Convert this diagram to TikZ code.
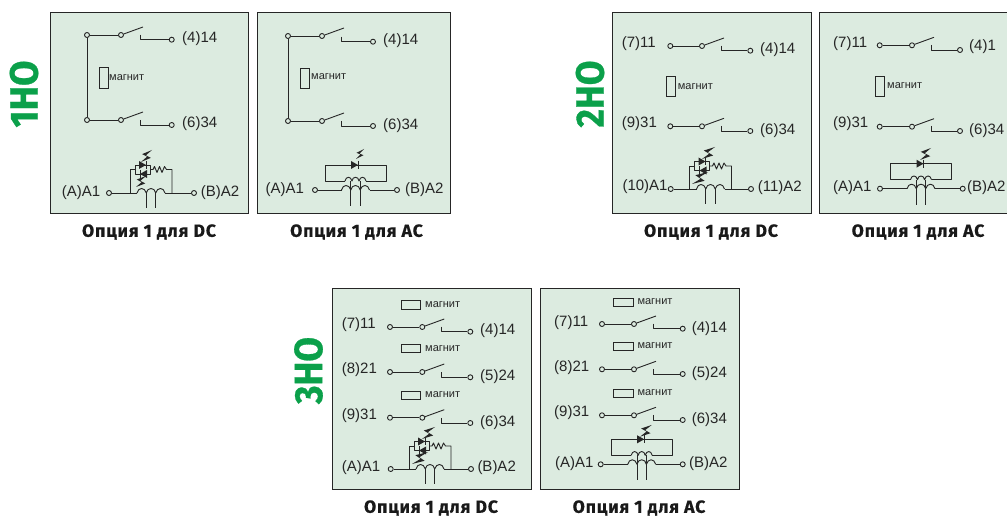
\documentclass[tikz,border=0pt]{standalone}
\usepackage{fontspec}
\usetikzlibrary{calc}
\setmainfont{Liberation Sans}
\newfontfamily\capf{Fira Sans}[LetterSpace=5,BoldFeatures={FakeBold=0.6}]
\newfontfamily\bigf{Fira Sans}[BoldFeatures={FakeBold=0.8}]
\definecolor{panelc}{HTML}{DCEBE0}
\definecolor{linec}{HTML}{262626}
\definecolor{greenc}{HTML}{0BA04A}
\newcounter{lb}
\tikzset{
  panel/.style={draw=linec,fill=panelc,line width=0.95pt},
  wire/.style={draw=linec,line width=0.92pt,line join=round},
  thinw/.style={draw=linec,line width=0.9pt,line join=round},
  term/.style={circle,draw=linec,fill=panelc,line width=0.9pt,minimum size=5pt,inner sep=0pt},
  lbl/.style={anchor=west,inner sep=0pt,font=\fontsize{15pt}{15pt}\selectfont,text=linec},
  mag/.style={anchor=west,inner sep=0pt,font=\fontsize{11pt}{11pt}\selectfont,text=linec},
  capt/.style={inner sep=0pt,font=\capf\bfseries\fontsize{17.6pt}{18pt}\selectfont,text=black!90},
  biglab/.style={rotate=90,inner sep=0pt,text=greenc,font=\bigf\bfseries},
  magbox/.style={draw=linec,fill=panelc,line width=0.9pt}
}
% text label
\newcommand\lab[3]{\stepcounter{lb}\node[lbl] (lab\thelb) at (#1,#2) {#3};}
\newcommand\mglab[2]{\stepcounter{lb}\node[mag] (lab\thelb) at (#1,#2) {магнит};}
\newcommand\cpt[3]{\stepcounter{lb}\node[capt] (lab\thelb) at (#1,#2) {#3};}
\newcommand\sidelab[3]{\stepcounter{lb}\node[biglab] (lab\thelb) at (#1,#2) {\resizebox{67pt}{28pt}{#3}};}
% contact: name, xl, yl, yr, xp, xr
\newcommand\contact[6]{%
  \node[term] (#1l) at (#2,#3) {};
  \node[term] (#1p) at (#5,#3) {};
  \node[term] (#1r) at (#6,#4) {};
  \coordinate (#1e) at ({#5+22},{#3-8});
  \coordinate (#1s) at ({#5+19},{#4-5});
  \coordinate (#1c) at ({#5+19},#4);
  \draw[wire] (#1l) -- (#1p);
  \draw[thinw] (#1p) -- (#1e);
  \draw[wire] (#1s) -- (#1c) -- (#1r);
}
% three humps from x-a to x+a at y
\newcommand\humps[4]{% x, a, y, h
  ({#1-#2},{#3}) .. controls ({#1-#2+0.1*#2},{#3-#4}) and ({#1-#2+0.55*#2},{#3-#4}) .. ({#1-#2/3},{#3})
  .. controls ({#1-#2/3+0.05*#2},{#3-#4}) and ({#1+#2/3-0.05*#2},{#3-#4}) .. ({#1+#2/3},{#3})
  .. controls ({#1+#2-0.55*#2},{#3-#4}) and ({#1+#2-0.1*#2},{#3-#4}) .. ({#1+#2},{#3})
}
% lightning: name, x1,y1, x2,y2, width
\newcommand\bolt[6]{%
  \coordinate (#1A) at (#2,#3);
  \coordinate (#1B) at (#4,#5);
  \fill[linec] (#1A) -- ($(#1A)!.60!(#1B)!#6pt!-90:(#1B)$) -- ($(#1A)!.50!(#1B)!#6*0.2pt!90:(#1B)$) -- (#1B)
     -- ($(#1A)!.40!(#1B)!#6pt!90:(#1B)$) -- ($(#1A)!.50!(#1B)!#6*0.2pt!-90:(#1B)$) -- cycle;
}
% diode at x,y pointing dir (+1/-1)
\newcommand\diode[3]{%
  \fill[linec] ({#1-(#3)*4},{#2-4}) -- ({#1+(#3)*3},{#2}) -- ({#1-(#3)*4},{#2+4}) -- cycle;
  \draw[thinw] ({#1+(#3)*3},{#2-4}) -- ({#1+(#3)*3},{#2+4});
}
% DC coil: name, cx, cy, tl, tr, top offset
\newcommand\dccoil[6]{%
  \node[term] (#1t) at (#4,#3) {};
  \node[term] (#1u) at (#5,#3) {};
  \coordinate (#1a) at ({#2-14},#3);
  \coordinate (#1b) at ({#2+14},#3);
  \draw[wire] (#1t) -- (#1a);
  \draw[wire] (#1b) -- (#1u);
  \draw[wire] \humps{#2}{14}{#3}{6};
  \draw[thinw] ({#2-4.7},#3) -- ({#2-4.7},{#3+15});
  \draw[thinw] ({#2+4.7},#3) -- ({#2+4.7},{#3+15});
  \draw[wire] ({#2-21},#3) -- ({#2-21},{#3+(#6)}) -- ({#2-16},{#3+(#6)});
  \draw[wire] ({#2-16},{#3+(#6)-4.5}) rectangle ({#2-1},{#3+(#6)+4.5});
  \draw[wire] ({#2-1},{#3+(#6)}) -- ({#2+2},{#3+(#6)}) -- ({#2+3.5},{#3+(#6)-3}) -- ({#2+6},{#3+(#6)+3}) -- ({#2+8.5},{#3+(#6)-3}) -- ({#2+11},{#3+(#6)+3}) -- ({#2+13.5},{#3+(#6)-3}) -- ({#2+15.5},{#3+(#6)}) -- ({#2+21},{#3+(#6)}) -- ({#2+21},#3);
  \diode{#2-8}{#3+(#6)-4.5}{1}
  \diode{#2-8}{#3+(#6)+4.5}{-1}
}
% AC coil: name, cx, cy, tl, tr
\newcommand\accoil[5]{%
  \node[term] (#1t) at (#4,#3) {};
  \node[term] (#1u) at (#5,#3) {};
  \coordinate (#1a) at ({#2-14},#3);
  \coordinate (#1b) at ({#2+14},#3);
  \draw[wire] (#1t) -- (#1a);
  \draw[wire] (#1b) -- (#1u);
  \draw[wire] \humps{#2}{14}{#3}{6};
  \draw[thinw] ({#2-4.7},{#3-9}) -- ({#2-4.7},{#3+16});
  \draw[thinw] ({#2+4.7},{#3-9}) -- ({#2+4.7},{#3+16});
  \draw[wire] ({#2-10.5},{#3-9}) -- ({#2-30.5},{#3-9}) -- ({#2-30.5},{#3-25}) -- ({#2+30.5},{#3-25}) -- ({#2+30.5},{#3-9}) -- ({#2+10.5},{#3-9});
  \draw[wire] \humps{#2}{10.5}{#3-9}{5};
  \diode{#2-0.5}{#3-25}{1}
}
\begin{document}
\begin{tikzpicture}[x=1pt,y=-1pt]
\useasboundingbox (0,0) rectangle (1007,518);
\clip (0,0) rectangle (1007,518);
% panels
\path[panel] (50,12) rectangle (248,213);
\path[panel] (257,12) rectangle (450,213);
\path[panel] (612,12) rectangle (811,213);
\path[panel] (819,12) rectangle (1015,213);
\path[panel] (332,288) rectangle (531,489);
\path[panel] (540,288) rectangle (739,489);
% side labels
\sidelab{24}{94}{1НО}
\sidelab{590}{94}{2НО}
\sidelab{308.5}{370.5}{3НО}
% captions
\cpt{149}{232}{Опция 1 для DC}
\cpt{356.5}{232}{Опция 1 для AC}
\cpt{711}{232}{Опция 1 для DC}
\cpt{918}{232}{Опция 1 для AC}
\cpt{431}{508}{Опция 1 для DC}
\cpt{639}{508}{Опция 1 для AC}
% panel 1
\contact{a}{87}{35}{39.7}{121}{171.7}
\contact{b}{87}{120}{125}{121}{171.7}
\draw[wire] (al) -- (bl);
\draw[magbox] (99,67) rectangle (108,88);
\mglab{109}{78}
\lab{182}{39}{(4)14}
\lab{182}{124}{(6)34}
\lab{61.7}{193}{(A)A1}
\lab{200.7}{193}{(B)A2}
\dccoil{c}{151}{193}{109}{194}{-23.5}
\bolt{c1}{152}{150}{141}{162}{4.5}
\bolt{c2}{146}{176}{136}{187}{4.5}
% panel 2
\contact{d}{288}{36}{41.7}{322}{373}
\contact{e}{288}{121}{126}{322}{373}
\draw[wire] (dl) -- (el);
\draw[magbox] (300,68) rectangle (309,88);
\mglab{311}{77}
\lab{383}{41}{(4)14}
\lab{383}{126}{(6)34}
\lab{265.5}{190}{(A)A1}
\lab{405}{190}{(B)A2}
\accoil{f}{355.5}{190}{315}{397}
\bolt{f1}{364}{149}{356}{159}{3.5}
% panel 3
\contact{g}{670.3}{46}{50.7}{702}{750.3}
\contact{h}{670.3}{126.3}{131}{702}{750.3}
\draw[magbox] (666.7,76) rectangle (675,96);
\mglab{677.7}{86.5}
\lab{621.7}{44}{(7)11}
\lab{621.7}{123.7}{(9)31}
\lab{760}{50}{(4)14}
\lab{760}{131}{(6)34}
\lab{622.3}{187}{(10)A1}
\lab{757.7}{188}{(11)A2}
\dccoil{i}{710.5}{189}{670.7}{751}{-23}
\bolt{i1}{715}{147}{702}{159}{5}
\bolt{i2}{708}{172}{692}{184}{5}
% panel 4
\contact{j}{879.7}{45.3}{50}{912}{960}
\contact{k}{879.7}{126.7}{131}{912}{960}
\draw[magbox] (875,76) rectangle (884,96);
\mglab{887}{86}
\lab{833}{44}{(7)11}
\lab{833}{124}{(9)31}
\lab{969}{47}{(4)1}
\lab{969}{131}{(6)34}
\lab{833}{188}{(A)A1}
\lab{967}{188}{(B)A2}
\accoil{l}{921}{188.7}{880}{962.7}
\bolt{l1}{931}{148}{920}{160}{5}
% panel 5
\draw[magbox] (401,300.7) rectangle (420.7,309);
\draw[magbox] (401,344.3) rectangle (420.7,352.7);
\draw[magbox] (401,391) rectangle (420.7,399);
\mglab{425}{305}
\mglab{425}{348.5}
\mglab{425}{395}
\contact{m}{390}{327}{331.7}{422.3}{470.3}
\contact{n}{390}{372}{377.3}{422.3}{470.3}
\contact{o}{390}{417.7}{423}{422.3}{470.3}
\lab{341.7}{325}{(7)11}
\lab{341.7}{370}{(8)21}
\lab{341.7}{416}{(9)31}
\lab{480}{331}{(4)14}
\lab{480}{377}{(5)24}
\lab{480}{423}{(6)34}
\lab{341.7}{468}{(A)A1}
\lab{477.3}{468}{(B)A2}
\dccoil{p}{430}{469}{390.7}{471}{-23}
\bolt{p1}{435}{427}{422}{439}{5}
\bolt{p2}{428}{452}{412}{464}{5}
% panel 6
\draw[magbox] (613.3,298) rectangle (633.3,306.3);
\draw[magbox] (613.3,342.3) rectangle (633.3,350.7);
\draw[magbox] (613.3,389) rectangle (633.3,397);
\mglab{637.3}{302}
\mglab{637.3}{346}
\mglab{637.3}{393}
\contact{q}{602}{324}{328.7}{634}{682.7}
\contact{r}{602}{369.3}{374}{634}{682.7}
\contact{s}{602}{415.3}{420}{634}{682.7}
\lab{554}{322.7}{(7)11}
\lab{554}{368}{(8)21}
\lab{554}{413}{(9)31}
\lab{691.7}{329}{(4)14}
\lab{691.7}{374}{(5)24}
\lab{691.7}{420}{(6)34}
\lab{555}{464}{(A)A1}
\lab{689}{464}{(B)A2}
\accoil{t}{641.7}{464.3}{600.7}{682.7}
\bolt{t1}{651.7}{425}{640}{436.7}{5}
\end{tikzpicture}
\end{document}
